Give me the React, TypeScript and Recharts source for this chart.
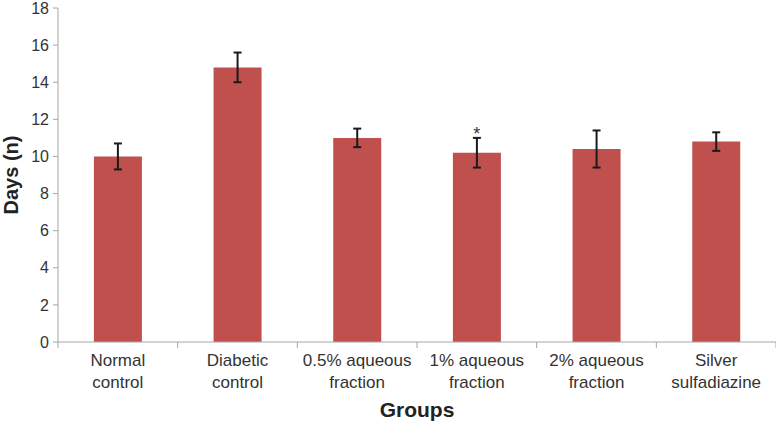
import { Bar, BarChart, ErrorBar, ReferenceDot, XAxis, YAxis } from 'recharts'

const groups = [
  'Normal\ncontrol',
  'Diabetic\ncontrol',
  '0.5% aqueous\nfraction',
  '1% aqueous\nfraction',
  '2% aqueous\nfraction',
  'Silver\nsulfadiazine',
]
const days = [10.0, 14.8, 11.0, 10.2, 10.4, 10.8]
const errors = [0.7, 0.8, 0.5, 0.8, 1.0, 0.5]
const marks = ['', '', '', '*', '', '']
const yTicks = [0, 2, 4, 6, 8, 10, 12, 14, 16, 18]

const data = groups.map((group, i) => ({ group, days: days[i], err: errors[i] }))

const font = 'Arial, "Liberation Sans", sans-serif'
const axisGray = '#a6a6a6'

// category label plus the small tick marks at the category boundaries
function GroupTick({ x, y, payload, width, index }: any) {
  const lines = String(payload.value).split('\n')
  const half = width ? width / groups.length / 2 : 0
  return (
    <g>
      {half > 0 && (
        <line x1={x + half} y1={y} x2={x + half} y2={y + 6} stroke={axisGray} />
      )}
      {half > 0 && index === 0 && (
        <line x1={x - half} y1={y} x2={x - half} y2={y + 6} stroke={axisGray} />
      )}
      <text x={x} y={y} textAnchor="middle" fontFamily={font} fontSize={17} fill="#333">
        {lines.map((line, i) => (
          <tspan key={i} x={x} dy={i === 0 ? 24 : 22}>
            {line}
          </tspan>
        ))}
      </text>
    </g>
  )
}

function DaysLabel({ viewBox }: any) {
  const cy = viewBox.y + viewBox.height / 2
  return (
    <text
      x={18}
      y={cy}
      transform={`rotate(-90, 18, ${cy})`}
      textAnchor="middle"
      fontFamily={font}
      fontSize={20}
      fontWeight="bold"
      fill="#222"
    >
      Days (n)
    </text>
  )
}

export default function App() {
  return (
    <div style={{ position: 'absolute', left: 0, top: 0, background: '#fff' }}>
      <BarChart width={776} height={422} data={data} margin={{ top: 8, right: 0, left: 0, bottom: 0 }} barCategoryGap="30%">
        <XAxis
          dataKey="group"
          interval={0}
          height={80}
          stroke={axisGray}
          tickLine={false}
          tickSize={0}
          tickMargin={0}
          tick={<GroupTick />}
          label={{
            value: 'Groups',
            position: 'insideBottom',
            offset: 5,
            style: { fontFamily: font, fontSize: 21, fontWeight: 'bold', fill: '#222' },
          }}
        />
        <YAxis
          width={58}
          domain={[0, 18]}
          ticks={yTicks}
          interval={0}
          stroke={axisGray}
          tickSize={5}
          tickMargin={4}
          tick={{ fontFamily: font, fontSize: 16, fill: '#333' }}
          label={<DaysLabel />}
        />
        <Bar dataKey="days" fill="#c0504d" isAnimationActive={false}>
          <ErrorBar dataKey="err" width={4} strokeWidth={2} stroke="#1a1a1a" isAnimationActive={false} />
        </Bar>
        {marks.map((m, i) =>
          m ? (
            <ReferenceDot
              key={i}
              x={groups[i]}
              y={days[i] + errors[i]}
              r={0}
              fill="none"
              stroke="none"
              label={{ value: m, position: 'top', offset: -2, style: { fontFamily: font, fontSize: 18, fill: '#333' } }}
            />
          ) : null
        )}
      </BarChart>
    </div>
  )
}
